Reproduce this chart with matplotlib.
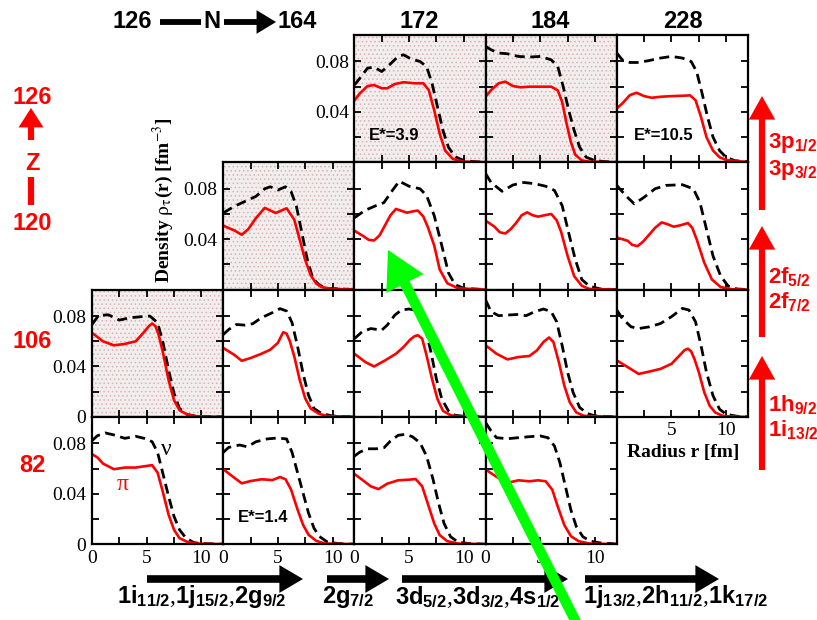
import matplotlib.pyplot as plt
from matplotlib.patches import Rectangle

# proton (pi, red solid) and neutron (nu, black dashed) densities, (r [fm], rho [fm^-3])
# top row Z=126
prot_172_126 = [(0, 0.049), (0.5, 0.0547), (1.2, 0.0605), (1.8, 0.0613), (2.5, 0.0587), (3, 0.0587), (3.7, 0.0621),
                (4.5, 0.0635), (5.5, 0.0627), (6.3, 0.0627), (6.8, 0.0573), (7.3, 0.0413), (7.8, 0.0227), (8.3, 0.0093),
                (9, 0.0027), (10, 0.0005), (12, 0)]
neut_172_126 = [(0, 0.0613), (0.5, 0.0667), (1.2, 0.0747), (1.8, 0.0755), (2.5, 0.072), (3.2, 0.0773), (4, 0.084),
                (4.5, 0.0853), (5.2, 0.0819), (6, 0.08), (6.6, 0.076), (7.1, 0.0627), (7.6, 0.044), (8.1, 0.0253),
                (8.6, 0.012), (9.2, 0.0045), (10, 0.0013), (11, 0.0005), (12, 0)]
prot_184_126 = [(0, 0.052), (0.5, 0.0573), (1.2, 0.0627), (1.8, 0.064), (2.5, 0.0605), (3.2, 0.0595), (4, 0.06),
                (5, 0.06), (6, 0.06), (6.6, 0.057), (7.0, 0.048), (7.4, 0.031), (7.8, 0.016), (8.2, 0.006),
                (8.8, 0.0015), (9.5, 0.0005), (12, 0)]
neut_184_126 = [(0, 0.092), (0.5, 0.0893), (1.2, 0.0867), (2, 0.0861), (3, 0.084), (4, 0.0835), (5, 0.084),
                (6, 0.0813), (6.6, 0.076), (7.1, 0.06), (7.6, 0.0413), (8.1, 0.0253), (8.6, 0.012), (9.2, 0.004),
                (10, 0.0013), (11, 0.0005), (12, 0)]
prot_228_126 = [(0, 0.0427), (0.5, 0.0467), (1.2, 0.0533), (1.8, 0.0552), (2.5, 0.0525), (3.2, 0.0512), (4, 0.052),
                (5, 0.0525), (6, 0.0528), (6.7, 0.0531), (7.2, 0.0493), (7.7, 0.036), (8.2, 0.02), (8.8, 0.0093),
                (9.4, 0.004), (10, 0.0019), (11, 0.0008), (12, 0.0003)]
neut_228_126 = [(0, 0.0867), (0.5, 0.0813), (1.2, 0.0792), (2, 0.0792), (3, 0.0808), (4, 0.0827), (5, 0.084),
                (6, 0.0827), (6.8, 0.08), (7.3, 0.072), (7.8, 0.0547), (8.3, 0.036), (8.8, 0.02), (9.4, 0.0093),
                (10, 0.004), (10.8, 0.0013), (12, 0.0005)]
# Z=120
prot_164_120 = [(0, 0.0507), (1, 0.047), (1.7, 0.0435), (2.3, 0.048), (3, 0.0568), (3.8, 0.0648), (4.8, 0.0608),
                (5.8, 0.0645), (6.5, 0.0555), (7, 0.0395), (7.5, 0.0235), (8, 0.0115), (8.5, 0.0048), (9, 0.002),
                (10, 0.0005), (12, 0)]
neut_164_120 = [(0, 0.0608), (1, 0.066), (2, 0.07), (3, 0.074), (3.8, 0.08), (4.3, 0.0816), (5, 0.079),
                (5.7, 0.0816), (6.2, 0.078), (6.7, 0.066), (7.2, 0.0448), (7.7, 0.0235), (8.2, 0.0088), (8.8, 0.0035),
                (9.5, 0.001), (12, 0)]
prot_172_120 = [(0, 0.0467), (0.8, 0.0425), (1.3, 0.0395), (1.8, 0.039), (2.3, 0.043), (2.8, 0.051), (3.3, 0.059),
                (3.8, 0.064), (4.3, 0.0625), (4.8, 0.061), (5.3, 0.062), (5.8, 0.0627), (6.3, 0.058), (6.7, 0.05),
                (7.3, 0.035), (7.8, 0.016), (8.5, 0.005), (9.5, 0.001), (12, 0)]
neut_172_120 = [(0, 0.057), (1, 0.063), (2, 0.0667), (2.7, 0.069), (3.5, 0.079), (4.1, 0.086), (5, 0.082), (6, 0.08),
                (6.6, 0.0747), (7.3, 0.0587), (8, 0.0347), (8.6, 0.0133), (9.2, 0.004), (10, 0.001), (12, 0)]
prot_184_120 = [(0, 0.0547), (0.8, 0.05), (1.3, 0.0455), (1.8, 0.0445), (2.3, 0.048), (2.8, 0.053), (3.3, 0.059),
                (3.8, 0.0613), (4.3, 0.059), (4.8, 0.0579), (5.4, 0.059), (6, 0.06), (6.5, 0.055), (6.9, 0.046),
                (7.5, 0.0267), (8.1, 0.0107), (8.8, 0.003), (9.5, 0.0005), (12, 0)]
neut_184_120 = [(0, 0.092), (0.5, 0.085), (1.5, 0.078), (2.5, 0.083), (3.5, 0.085), (4.5, 0.084), (5.5, 0.082),
                (6.3, 0.0787), (7, 0.0667), (7.6, 0.045), (8.2, 0.024), (8.8, 0.008), (9.5, 0.0027), (10.5, 0.0005),
                (12, 0)]
prot_228_120 = [(0, 0.0413), (1, 0.0387), (1.4, 0.0355), (1.9, 0.0345), (2.4, 0.038), (3, 0.044), (3.5, 0.049),
                (4.1, 0.0533), (4.6, 0.052), (5.2, 0.0499), (5.8, 0.051), (6.5, 0.0528), (6.9, 0.049), (7.3, 0.04),
                (8, 0.0213), (8.7, 0.008), (9.5, 0.002), (10.5, 0.0003), (12, 0)]
neut_228_120 = [(0, 0.0827), (0.8, 0.0747), (1.6, 0.068), (2.5, 0.0733), (3.5, 0.08), (4.5, 0.0827), (6, 0.0832),
                (7, 0.08), (7.6, 0.0693), (8.2, 0.048), (8.8, 0.0267), (9.5, 0.0107), (10.2, 0.0027), (11, 0.0005),
                (12, 0)]
# Z=106
prot_126_106 = [(0, 0.0667), (1, 0.06), (2, 0.0568), (3, 0.0579), (4, 0.06), (4.7, 0.0667), (5.2, 0.072),
                (5.5, 0.0741), (5.8, 0.072), (6.1, 0.065), (6.5, 0.0507), (7, 0.0293), (7.5, 0.0133), (8, 0.0053),
                (8.7, 0.0019), (9.5, 0.0005), (12, 0)]
neut_126_106 = [(0, 0.0733), (0.6, 0.0805), (1.5, 0.081), (2.5, 0.0768), (3.5, 0.0787), (4.5, 0.0795), (5.3, 0.08),
                (6, 0.0747), (6.5, 0.0587), (7, 0.0373), (7.5, 0.0187), (8, 0.0067), (8.7, 0.002), (9.5, 0.0005),
                (12, 0)]
prot_164_106 = [(0, 0.0547), (1, 0.0493), (1.7, 0.0445), (2.5, 0.0467), (3.5, 0.0501), (4.3, 0.0533), (5, 0.0587),
                (5.3, 0.064), (5.5, 0.0672), (5.8, 0.066), (6.1, 0.06), (6.5, 0.048), (7, 0.0293), (7.5, 0.0147),
                (8, 0.0067), (8.7, 0.0027), (9.5, 0.0007), (12, 0)]
neut_164_106 = [(0, 0.0653), (0.5, 0.0693), (1.2, 0.0733), (2, 0.0728), (2.7, 0.0739), (3.5, 0.0787), (4.5, 0.0827),
                (5.2, 0.0859), (5.8, 0.084), (6.3, 0.0747), (6.8, 0.056), (7.3, 0.0347), (7.8, 0.0173), (8.3, 0.0067),
                (9, 0.0027), (10, 0.0007), (12, 0)]
prot_172_106 = [(0, 0.0501), (1, 0.0435), (1.8, 0.04), (2.8, 0.0448), (3.8, 0.0501), (4.5, 0.0555), (5.1, 0.0613),
                (5.5, 0.064), (5.8, 0.0648), (6.2, 0.0621), (6.6, 0.0488), (7.1, 0.0301), (7.6, 0.0141),
                (8.1, 0.0048), (8.8, 0.0013), (9.5, 0.0003), (12, 0)]
neut_172_106 = [(0, 0.0621), (0.7, 0.0675), (1.5, 0.0701), (2.5, 0.0688), (3, 0.0728), (3.7, 0.0808), (4.3, 0.0848),
                (5, 0.0856), (5.5, 0.0848), (6, 0.0808), (6.5, 0.0701), (7, 0.0515), (7.5, 0.0301), (8, 0.0141),
                (8.6, 0.0048), (9.2, 0.0013), (10, 0.0005), (12, 0)]
prot_184_106 = [(0, 0.0568), (1, 0.0501), (2, 0.0456), (3, 0.0475), (4, 0.0483), (4.7, 0.0528), (5.3, 0.0595),
                (5.8, 0.063), (6.2, 0.0595), (6.7, 0.0435), (7.2, 0.0248), (7.7, 0.0115), (8.3, 0.0035), (9, 0.0008),
                (12, 0)]
neut_184_106 = [(0, 0.0928), (0.5, 0.0835), (1.2, 0.0803), (2, 0.0808), (3, 0.0813), (3.7, 0.0803), (4.5, 0.0835),
                (5.3, 0.0856), (6, 0.0835), (6.5, 0.0755), (7, 0.0568), (7.5, 0.0355), (8, 0.0195), (8.6, 0.0075),
                (9.3, 0.0027), (10, 0.0008), (12, 0)]
prot_228_106 = [(0, 0.0448), (1, 0.0395), (2, 0.0341), (3, 0.036), (4, 0.0381), (5, 0.0421), (5.8, 0.0493),
                (6.2, 0.053), (6.5, 0.0541), (6.8, 0.052), (7.1, 0.046), (7.5, 0.0355), (8, 0.0195), (8.5, 0.0088),
                (9, 0.0035), (9.7, 0.0008), (10.5, 0.0003), (12, 0)]
neut_228_106 = [(0, 0.0848), (0.5, 0.0781), (1.3, 0.0715), (2, 0.0701), (3, 0.0715), (4, 0.0741), (5, 0.0795),
                (6, 0.0861), (6.6, 0.0848), (7.2, 0.0755), (7.7, 0.0568), (8.2, 0.0355), (8.8, 0.0168), (9.4, 0.0061),
                (10, 0.0021), (11, 0.0005), (12, 0)]
# Z=82
prot_126_82 = [(0, 0.0715), (0.5, 0.0688), (1, 0.064), (2, 0.0595), (3, 0.0608), (4, 0.0608), (5, 0.0621),
               (5.5, 0.0627), (6, 0.0568), (6.5, 0.0408), (7, 0.0235), (7.5, 0.0115), (8, 0.0048), (8.7, 0.0019),
               (9.5, 0.0005), (12, 0)]
neut_126_82 = [(0, 0.0821), (0.5, 0.0861), (1.2, 0.0883), (2, 0.0867), (3, 0.084), (4, 0.0856), (5, 0.0835),
               (5.5, 0.0813), (6, 0.0728), (6.5, 0.0555), (7, 0.0381), (7.5, 0.0221), (8, 0.0115), (8.6, 0.0048),
               (9.3, 0.0013), (10, 0.0005), (12, 0)]
prot_164_82 = [(0, 0.0595), (1, 0.0528), (1.7, 0.0483), (2.5, 0.0501), (3.5, 0.0515), (4.5, 0.0509), (5.2, 0.0533),
               (5.7, 0.0515), (6.2, 0.0435), (6.8, 0.0275), (7.3, 0.0155), (7.8, 0.0075), (8.5, 0.0027),
               (9.3, 0.0005), (12, 0)]
neut_164_82 = [(0, 0.0728), (0.5, 0.0768), (1.5, 0.0787), (2.2, 0.0773), (3, 0.0813), (4, 0.0835), (5, 0.0843),
               (5.8, 0.0835), (6.3, 0.0728), (6.8, 0.0568), (7.3, 0.0408), (7.8, 0.0248), (8.3, 0.0128),
               (8.8, 0.0061), (9.5, 0.0019), (10.5, 0.0005), (12, 0)]
prot_172_82 = [(0, 0.0557), (0.7, 0.0512), (1.5, 0.0459), (2.2, 0.0437), (3, 0.048), (4, 0.0507), (5, 0.0512),
               (5.6, 0.0517), (6.2, 0.0459), (6.7, 0.0325), (7.3, 0.0165), (7.8, 0.0072), (8.5, 0.0024),
               (9.5, 0.0005), (12, 0)]
neut_172_82 = [(0, 0.0699), (0.5, 0.0731), (1.2, 0.0757), (2, 0.0757), (2.7, 0.0765), (3.3, 0.0819), (4, 0.0864),
               (4.7, 0.0872), (5.3, 0.0853), (6, 0.0805), (6.6, 0.0699), (7.2, 0.0512), (7.7, 0.0325), (8.2, 0.0165),
               (8.8, 0.0059), (9.5, 0.0016), (10.5, 0.0005), (12, 0)]
prot_184_82 = [(0, 0.0592), (0.7, 0.0552), (1.5, 0.0507), (2.2, 0.0491), (3, 0.0507), (4, 0.0499), (4.8, 0.0507),
               (5.5, 0.0499), (6.1, 0.0432), (6.6, 0.0299), (7.2, 0.0152), (7.8, 0.0064), (8.5, 0.0024),
               (9.5, 0.0005), (12, 0)]
neut_184_82 = [(0, 0.0965), (0.5, 0.0899), (1, 0.0845), (2, 0.0837), (3, 0.0845), (4, 0.0853), (5, 0.0859),
               (5.7, 0.0845), (6.3, 0.0779), (6.8, 0.0645), (7.3, 0.0459), (7.8, 0.0272), (8.3, 0.0139),
               (8.9, 0.0059), (9.6, 0.0024), (10.5, 0.001), (11.5, 0.0005), (12, 0)]

neutron_numbers = [126, 164, 172, 184, 228]
proton_numbers = [126, 120, 106, 82]
excitation = {(172, 126): "E*=3.9", (228, 126): "E*=10.5", (164, 82): "E*=1.4"}
shells_right = [("$3p_{1/2}$", "$3p_{3/2}$"), ("$2f_{5/2}$", "$2f_{7/2}$"), ("$1h_{9/2}$", "$1i_{13/2}$")]
shells_bottom = ["$1i_{11/2}$,$1j_{15/2}$,$2g_{9/2}$", "$2g_{7/2}$",
                 "$3d_{5/2}$,$3d_{3/2}$,$4s_{1/2}$", "$1j_{13/2}$,$2h_{11/2}$,$1k_{17/2}$"]

curves = {
    (172, 126): (prot_172_126, neut_172_126), (184, 126): (prot_184_126, neut_184_126),
    (228, 126): (prot_228_126, neut_228_126),
    (164, 120): (prot_164_120, neut_164_120), (172, 120): (prot_172_120, neut_172_120),
    (184, 120): (prot_184_120, neut_184_120), (228, 120): (prot_228_120, neut_228_120),
    (126, 106): (prot_126_106, neut_126_106), (164, 106): (prot_164_106, neut_164_106),
    (172, 106): (prot_172_106, neut_172_106), (184, 106): (prot_184_106, neut_184_106),
    (228, 106): (prot_228_106, neut_228_106),
    (126, 82): (prot_126_82, neut_126_82), (164, 82): (prot_164_82, neut_164_82),
    (172, 82): (prot_172_82, neut_172_82), (184, 82): (prot_184_82, neut_184_82),
}
shaded = {(172, 126), (184, 126), (164, 120), (126, 106)}
ylab_panels = {(172, 126): "hi", (164, 120): "hi", (126, 106): "all", (126, 82): "all"}
xlab_panels = {(126, 82): "all", (164, 82): "all", (172, 82): "all", (184, 82): "all", (228, 106): "no0"}

plt.rcParams["font.family"] = "Liberation Serif"
plt.rcParams["mathtext.fontset"] = "custom"
plt.rcParams["mathtext.rm"] = "Liberation Sans:bold"
plt.rcParams["mathtext.it"] = "Liberation Sans:bold"
plt.rcParams["mathtext.bf"] = "Liberation Sans:bold"
plt.rcParams["mathtext.default"] = "rm"
plt.rcParams["hatch.linewidth"] = 0.6

W, H = 817, 620
fig = plt.figure(figsize=(W / 100, H / 100), dpi=100)
col_x = [92 + 131.2 * i for i in range(5)]
row_y = [35 + 127.3 * i for i in range(4)]
pw, ph = 131.2, 127.3

for (n, z), (prot, neut) in curves.items():
    col = neutron_numbers.index(n)
    row = proton_numbers.index(z)
    ax = fig.add_axes([col_x[col] / W, 1 - (row_y[row] + ph) / H, pw / W, ph / H])
    if (n, z) in shaded:
        ax.add_patch(Rectangle((0, 0), 1, 1, transform=ax.transAxes, facecolor="#f3eeee",
                               edgecolor="#d7b3b3", hatch="....", lw=0, zorder=0))
    ax.plot([p[0] for p in neut], [p[1] for p in neut], color="black", lw=2.0, ls=(0, (3.6, 2.0)))
    ax.plot([p[0] for p in prot], [p[1] for p in prot], color="red", lw=1.9, solid_joinstyle="round")
    ax.set_xlim(0, 12)
    ax.set_ylim(0, 0.101)
    ax.set_xticks([0, 2.5, 5, 7.5, 10])
    ax.set_yticks([0, 0.02, 0.04, 0.06, 0.08])
    xl = xlab_panels.get((n, z))
    if xl == "all":
        ax.set_xticklabels(["0", "", "5", "", "10"])
    elif xl == "no0":
        ax.set_xticklabels(["", "", "5", "", "10"])
    else:
        ax.set_xticklabels([])
    yl = ylab_panels.get((n, z))
    if yl == "all":
        ax.set_yticklabels(["0", "", "0.04", "", "0.08"])
    elif yl == "hi":
        ax.set_yticklabels(["", "", "0.04", "", "0.08"])
    else:
        ax.set_yticklabels([])
    ax.tick_params(direction="in", length=5.2, width=1.3, top=True, right=True, labelsize=14, pad=4)
    for s in ax.spines.values():
        s.set_linewidth(1.6)
    if (n, z) in excitation:
        x0 = 1.55 if n == 228 else 1.3
        ax.text(x0, 0.021, excitation[(n, z)], fontsize=12, fontweight="bold", family="Liberation Sans",
                va="center")
    if (n, z) == (126, 82):
        ax.text(2.8, 0.0475, "\u03c0", color="red", fontsize=17, ha="center", va="center")
        ax.text(6.8, 0.0755, "\u03bd", color="black", fontsize=17, ha="center", va="center")

# overlay in pixel coordinates for the annotations
ov = fig.add_axes([0, 0, 1, 1], zorder=10)
ov.set_xlim(0, W)
ov.set_ylim(H, 0)
ov.axis("off")
ov.patch.set_alpha(0)

sans = dict(family="Liberation Sans", fontweight="bold")
for x, t in [(419, "172"), (550, "184"), (683, "228"), (132, "126"), (297, "164"), (212, "N")]:
    ov.text(x, 22, t, fontsize=17, ha="center", va="center", **sans)
ov.plot([160, 201], [22, 22], color="black", lw=4.2, solid_capstyle="butt")
ov.annotate("", xy=(276, 22), xytext=(224, 22),
            arrowprops=dict(facecolor="black", edgecolor="none", width=4.2, headwidth=17, headlength=14, shrink=0))

red = "#ff0000"
for y, t in [(97, "126"), (163, "Z"), (223, "120"), (342, "106"), (465, "82")]:
    ov.text(32, y, t, fontsize=17, ha="center", va="center", color=red, **sans)
ov.annotate("", xy=(31, 108), xytext=(31, 140),
            arrowprops=dict(facecolor=red, edgecolor="none", width=4.5, headwidth=18, headlength=14, shrink=0))
ov.plot([31, 31], [177, 205], color=red, lw=4.5, solid_capstyle="butt")

for (tail, tip), (a, b), (ya, yb) in zip([(210, 96), (337, 226), (470, 356)], shells_right,
                                         [(143, 170), (277, 302), (405, 430)]):
    ov.annotate("", xy=(762, tip), xytext=(762, tail), annotation_clip=False,
                arrowprops=dict(facecolor=red, edgecolor="none", width=4.5, headwidth=19, headlength=17, shrink=0))
    ov.text(768, ya, a, fontsize=16, color=red, va="center", ha="left")
    ov.text(768, yb, b, fontsize=16, color=red, va="center", ha="left")

for (x0, x1), xt, t in zip([(147, 303), (327, 389), (402, 568), (585, 719)], [117, 322, 395, 583], shells_bottom):
    ov.annotate("", xy=(x1, 579), xytext=(x0, 579),
                arrowprops=dict(facecolor="black", edgecolor="none", width=5.5, headwidth=20, headlength=17, shrink=0))
    ov.text(xt, 597, t, fontsize=17, va="center", ha="left")

ov.text(163, 200, r"Density $\rho_\tau$(r) [fm$^{-3}$]", rotation=90, fontsize=14, fontweight="bold",
        ha="center", va="center", math_fontfamily="stix")
ov.text(683, 453, "Radius r [fm]", fontsize=14, fontweight="bold", ha="center", va="center")

ov.annotate("", xy=(388, 250), xytext=(580, 630), annotation_clip=False,
            arrowprops=dict(facecolor="#00ff00", edgecolor="none", width=7.5, headwidth=30, headlength=27, shrink=0))

fig.savefig("out.png", dpi=100)
